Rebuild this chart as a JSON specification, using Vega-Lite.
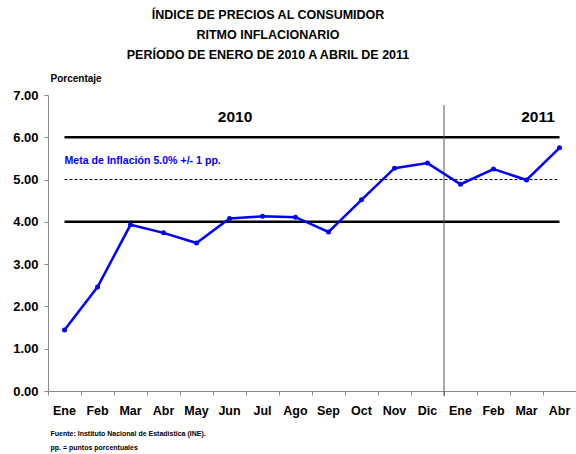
{
  "$schema": "https://vega.github.io/schema/vega-lite/v6.json",
  "width": 528,
  "height": 296,
  "autosize": "none",
  "padding": {"left": 48, "top": 95, "right": 0, "bottom": 63},
  "background": "white",
  "title": {
    "text": ["ÍNDICE DE PRECIOS AL CONSUMIDOR", "RITMO INFLACIONARIO", "PERÍODO DE ENERO DE 2010 A ABRIL DE 2011"],
    "font": "Liberation Sans, Arial, sans-serif",
    "fontSize": 12.5,
    "fontWeight": "bold",
    "color": "black",
    "lineHeight": 20,
    "anchor": "middle",
    "dx": -44,
    "offset": 12
  },
  "config": {
    "view": {"stroke": null},
    "font": "Liberation Sans, Arial, sans-serif"
  },
  "datasets": {
    "serie": [
      {"mes": "Ene 2010", "valor": 1.44},
      {"mes": "Feb 2010", "valor": 2.46},
      {"mes": "Mar 2010", "valor": 3.93},
      {"mes": "Abr 2010", "valor": 3.74},
      {"mes": "May 2010", "valor": 3.50},
      {"mes": "Jun 2010", "valor": 4.08},
      {"mes": "Jul 2010", "valor": 4.13},
      {"mes": "Ago 2010", "valor": 4.11},
      {"mes": "Sep 2010", "valor": 3.76},
      {"mes": "Oct 2010", "valor": 4.52},
      {"mes": "Nov 2010", "valor": 5.27},
      {"mes": "Dic 2010", "valor": 5.39},
      {"mes": "Ene 2011", "valor": 4.89},
      {"mes": "Feb 2011", "valor": 5.25},
      {"mes": "Mar 2011", "valor": 4.99},
      {"mes": "Abr 2011", "valor": 5.75}
    ],
    "limites": [
      {"desde": "Ene 2010", "hasta": "Abr 2011", "valor": 6, "tipo": "limite"},
      {"desde": "Ene 2010", "hasta": "Abr 2011", "valor": 4, "tipo": "limite"}
    ],
    "meta": [
      {"desde": "Ene 2010", "hasta": "Abr 2011", "valor": 5}
    ],
    "separador": [
      {"mes": "Ene 2011", "arriba": 6.76, "abajo": -0.12}
    ],
    "anios": [
      {"mes": "Jun 2010", "valor": 6.48, "texto": "2010", "dx": 22},
      {"mes": "Mar 2011", "valor": 6.48, "texto": "2011", "dx": 28}
    ],
    "nota": [
      {"mes": "Ene 2010", "valor": 5.45, "texto": "Meta de Inflación 5.0% +/- 1 pp."}
    ]
  },
  "encoding": {
    "x": {
      "field": "mes",
      "type": "nominal",
      "sort": null,
      "scale": {"paddingInner": 0, "paddingOuter": 0,
        "domain": ["Ene 2010","Feb 2010","Mar 2010","Abr 2010","May 2010","Jun 2010","Jul 2010","Ago 2010","Sep 2010","Oct 2010","Nov 2010","Dic 2010","Ene 2011","Feb 2011","Mar 2011","Abr 2011"]},
      "axis": {
        "labelExpr": "split(datum.label, ' ')[0]",
        "labelAngle": 0,
        "labelFontSize": 12.5,
        "labelFontWeight": "bold",
        "labelColor": "black",
        "labelPadding": 9,
        "bandPosition": 0,
        "labelOffset": 0,
        "domainColor": "#888888",
        "tickColor": "#888888",
        "tickSize": 4,
        "title": ["Fuente: Instituto Nacional de Estadística  (INE).", "pp. = puntos porcentuales"],
        "titleFontSize": 7,
        "titleFontWeight": "bold",
        "titleColor": "black",
        "titleAnchor": "start",
        "titleAlign": "left",
        "titleBaseline": "alphabetic",
        "titleLineHeight": 14,
        "titleX": 2,
        "titleY": 44
      }
    },
    "y": {
      "field": "valor",
      "type": "quantitative",
      "scale": {"domain": [0, 7], "nice": false, "zero": true},
      "axis": {
        "values": [0, 1, 2, 3, 4, 5, 6, 7],
        "format": ".2f",
        "grid": false,
        "labelFontSize": 13,
        "labelFontWeight": "bold",
        "labelColor": "black",
        "labelPadding": 6,
        "domainColor": "#888888",
        "tickColor": "#888888",
        "tickSize": 4,
        "title": "Porcentaje",
        "titleAngle": 0,
        "titleAlign": "left",
        "titleBaseline": "alphabetic",
        "titleFontSize": 10,
        "titleFontWeight": "bold",
        "titleColor": "black",
        "titleX": 2,
        "titleY": -14
      }
    }
  },
  "layer": [
    {
      "data": {"name": "limites"},
      "mark": {"type": "rule", "color": "black", "strokeWidth": 2.5},
      "encoding": {
        "x": {"field": "desde", "type": "nominal", "sort": null},
        "x2": {"field": "hasta"},
        "y": {"field": "valor", "type": "quantitative"}
      }
    },
    {
      "data": {"name": "meta"},
      "mark": {"type": "rule", "color": "black", "strokeWidth": 1, "strokeDash": [3, 2]},
      "encoding": {
        "x": {"field": "desde", "type": "nominal", "sort": null},
        "x2": {"field": "hasta"},
        "y": {"field": "valor", "type": "quantitative"}
      }
    },
    {
      "data": {"name": "separador"},
      "mark": {"type": "rule", "color": "#555555", "strokeWidth": 1},
      "encoding": {
        "x": {"field": "mes", "type": "nominal", "sort": null, "bandPosition": 0},
        "y": {"field": "arriba", "type": "quantitative"},
        "y2": {"field": "abajo"}
      }
    },
    {
      "data": {"name": "serie"},
      "mark": {"type": "line", "color": "#0000FF", "strokeWidth": 2.5, "point": {"filled": true, "color": "#0000FF", "size": 25}}
    },
    {
      "data": {"name": "anios"},
      "mark": {"type": "text", "fontSize": 15.5, "fontWeight": "bold", "color": "black", "align": "center", "baseline": "middle"},
      "encoding": {
        "x": {"field": "mes", "type": "nominal", "sort": null},
        "xOffset": {"field": "dx", "type": "quantitative", "scale": null},
        "text": {"field": "texto"}
      }
    },
    {
      "data": {"name": "nota"},
      "mark": {"type": "text", "fontSize": 10.6, "fontWeight": "bold", "color": "#0000FF", "align": "left", "baseline": "middle"},
      "encoding": {
        "x": {"field": "mes", "type": "nominal", "sort": null},
        "text": {"field": "texto"}
      }
    }
  ]
}
